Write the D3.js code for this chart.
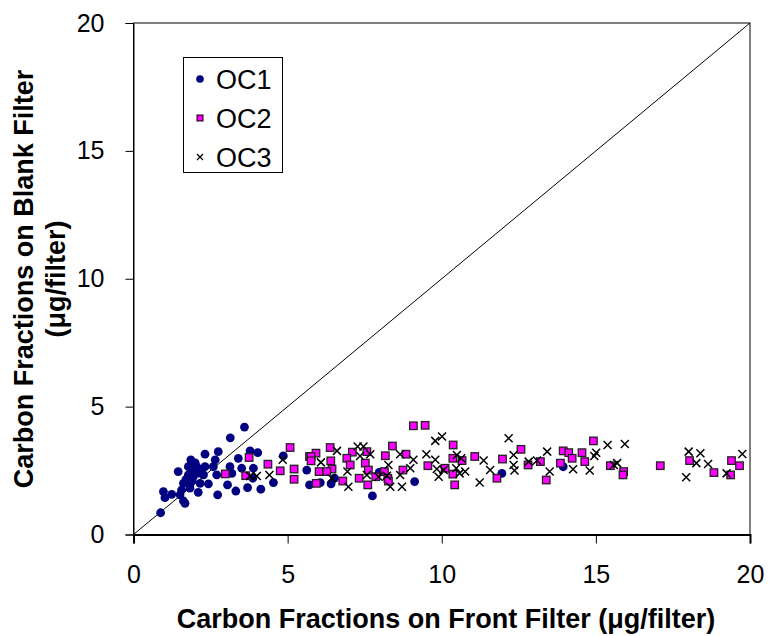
<!DOCTYPE html>
<html><head><meta charset="utf-8">
<script src="https://cdn.jsdelivr.net/npm/d3@7"></script>
<style>body{margin:0;background:#fff}svg{display:block}text{font-family:"Liberation Sans",Arial,sans-serif}</style>
</head><body><svg id="c" width="769" height="636"></svg>
<script>
const oc1X=[3.60,3.14,2.75,2.32,1.86,2.65,3.40,3.78,4.03,1.78,2.05,2.32,2.59,1.45,3.13,3.51,3.89,4.86,5.62,1.78,1.94,2.27,2.70,3.19,2.16,2.43,1.62,1.83,1.56,1.83,1.51,2.10,2.73,3.05,3.32,3.70,4.13,3.87,4.54,0.97,1.02,1.24,1.62,1.67,0.88,5.71,6.06,6.41,6.52,7.75,7.97,9.12,11.95,13.94,1.95,2.10,1.70,2.00,2.20,1.90];
const oc1Y=[4.20,3.78,3.24,3.14,2.92,2.92,2.98,3.27,3.20,2.65,2.65,2.65,2.65,2.46,2.65,2.59,2.59,3.07,2.52,2.33,2.26,2.33,2.33,2.39,2.00,1.98,2.00,1.94,1.74,1.81,1.55,1.65,1.55,1.94,1.70,1.83,1.77,2.20,2.03,1.68,1.44,1.57,1.31,1.22,0.85,1.94,2.03,1.98,2.20,1.51,2.43,2.07,2.39,2.65,2.50,2.40,2.15,2.80,2.55,2.10];
const oc2X=[2.98,3.75,3.64,4.36,4.76,5.08,5.21,5.21,5.71,9.08,9.46,6.38,5.92,5.76,5.76,6.40,7.10,6.92,7.03,6.44,6.02,6.27,5.93,6.79,7.32,7.57,7.52,7.62,7.60,7.86,8.17,8.14,8.25,8.27,8.40,8.84,8.74,9.55,10.37,10.36,10.42,10.11,10.36,10.66,11.07,11.97,12.57,11.79,12.80,13.20,13.39,13.85,13.94,14.12,14.23,14.55,14.64,14.92,15.47,15.90,15.88,17.09,18.04,18.83,19.37,19.40,19.66];
const oc2Y=[2.37,3.01,2.30,2.75,2.49,3.40,2.56,2.16,3.05,4.25,4.27,3.40,3.18,3.05,2.88,2.88,3.22,2.98,2.72,2.56,2.46,2.46,2.00,2.09,2.20,3.24,2.79,2.52,1.94,2.26,3.08,2.46,2.20,2.09,3.46,3.14,2.52,2.69,3.50,2.36,1.94,2.59,2.98,2.89,3.05,2.95,3.33,2.20,2.72,2.85,2.13,2.79,3.27,3.20,2.98,3.20,2.85,3.66,2.69,2.46,2.33,2.69,2.89,2.42,2.33,2.89,2.69];
const oc3X=[3.78,4.00,4.41,4.84,6.08,6.60,6.43,6.94,6.97,7.27,7.46,7.35,7.68,7.57,7.95,8.27,8.22,8.33,8.65,8.65,8.98,9.08,8.71,9.50,9.79,10.01,9.79,9.90,9.84,10.06,10.47,10.58,12.17,10.49,10.63,10.76,11.23,11.36,11.57,12.33,12.33,12.36,12.82,13.09,13.42,13.50,14.26,14.80,14.95,15.01,15.38,15.94,15.58,15.69,18.01,18.39,18.26,18.64,17.93,19.24,19.75];
const oc3Y=[2.29,2.29,2.33,2.92,2.82,3.27,2.20,2.46,1.87,3.44,3.44,3.07,3.14,2.33,2.26,2.72,2.30,1.87,3.14,2.33,2.59,2.92,1.87,3.14,3.66,3.83,2.92,2.26,2.56,2.52,2.59,2.39,3.76,3.11,2.98,2.46,2.03,2.89,2.52,3.11,2.72,2.50,2.85,2.89,3.24,2.46,2.55,2.50,3.07,3.20,3.50,3.54,2.72,2.79,3.24,3.18,2.79,2.76,2.24,2.39,3.15];
const seriesNames=["OC1","OC2","OC3"];
const tickValues=[0,5,10,15,20];
const xTitle="Carbon Fractions on Front Filter (\u03bcg/filter)";
const yTitle1="Carbon Fractions on Blank Filter";
const yTitle2="(\u03bcg/filter)";

const svg=d3.select("#c");
const x=d3.scaleLinear().domain([0,20]).range([133.5,750]);
const y=d3.scaleLinear().domain([0,20]).range([534.5,23]);

svg.append("rect").attr("x",x(0)).attr("y",y(20)).attr("width",x(20)-x(0)).attr("height",y(0)-y(20))
  .attr("fill","none").attr("stroke","#000").attr("stroke-width",1);

const xa=svg.append("g").attr("transform",`translate(0,${y(0)})`)
  .call(d3.axisBottom(x).tickValues(tickValues).tickSize(9).tickPadding(22).tickFormat(d3.format("d")));
const ya=svg.append("g").attr("transform",`translate(${x(0)},0)`)
  .call(d3.axisLeft(y).tickValues(tickValues).tickSize(8).tickPadding(21).tickFormat(d3.format("d")));
[xa,ya].forEach(g=>{g.select(".domain").attr("stroke","#000");g.selectAll(".tick line").attr("stroke","#000");
  g.selectAll("text").attr("font-size",25).attr("fill","#000").style("font-family","'Liberation Sans',Arial,sans-serif");});
xa.select(".domain").attr("stroke-width",2);
xa.selectAll(".tick text").attr("dy","0.71em");

svg.append("line").attr("x1",x(0)).attr("y1",y(0)).attr("x2",x(20)).attr("y2",y(20)).attr("stroke","#000").attr("stroke-width",1);

const plot=svg.append("g");
plot.selectAll("circle.oc1").data(d3.zip(oc1X,oc1Y)).join("circle").attr("class","oc1")
  .attr("cx",d=>x(d[0])).attr("cy",d=>y(d[1])).attr("r",4.4).attr("fill","#000080");
const s=7.5;
plot.selectAll("rect.oc2").data(d3.zip(oc2X,oc2Y)).join("rect").attr("class","oc2")
  .attr("x",d=>x(d[0])-s/2).attr("y",d=>y(d[1])-s/2).attr("width",s).attr("height",s)
  .attr("fill","#ff00ff").attr("stroke","#222").attr("stroke-width",1.3);
const c=4;
plot.selectAll("path.oc3").data(d3.zip(oc3X,oc3Y)).join("path").attr("class","oc3")
  .attr("d",d=>{const px=x(d[0]),py=y(d[1]);return `M${px-c},${py-c}L${px+c},${py+c}M${px-c},${py+c}L${px+c},${py-c}`;})
  .attr("stroke","#000").attr("stroke-width",1.5).attr("fill","none");

const lg=svg.append("g");
lg.append("rect").attr("x",183.5).attr("y",57.5).attr("width",99).attr("height",115).attr("fill","#fff").attr("stroke","#000");
const ly=[79,118,157];
lg.append("circle").attr("cx",200).attr("cy",ly[0]).attr("r",3.8).attr("fill","#000080");
lg.append("rect").attr("x",197).attr("y",ly[1]-3).attr("width",6).attr("height",6).attr("fill","#ff00ff").attr("stroke","#000");
lg.append("path").attr("d",`M197,${ly[2]-3}L203,${ly[2]+3}M197,${ly[2]+3}L203,${ly[2]-3}`).attr("stroke","#000").attr("stroke-width",1.2);
seriesNames.forEach((n,i)=>lg.append("text").attr("x",216).attr("y",ly[i]).attr("dy","0.36em").attr("font-size",27).text(n));

svg.append("text").attr("x",446).attr("y",628).attr("text-anchor","middle").attr("font-size",27).attr("font-weight","bold").text(xTitle);
const yt=svg.append("g").attr("transform","translate(0,279) rotate(-90)");
yt.append("text").attr("x",0).attr("y",33).attr("text-anchor","middle").attr("font-size",27).attr("font-weight","bold").text(yTitle1);
yt.append("text").attr("x",0).attr("y",65).attr("text-anchor","middle").attr("font-size",27).attr("font-weight","bold").text(yTitle2);
</script></body></html>
